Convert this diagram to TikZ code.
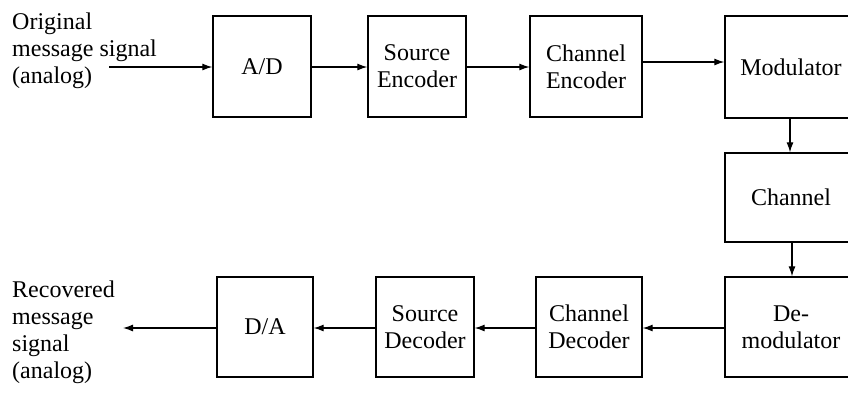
\documentclass[tikz,border=0pt]{standalone}
\usepackage{fontspec}
\setmainfont{Liberation Serif}
\usetikzlibrary{arrows.meta,calc}
\begin{document}
\begin{tikzpicture}[x=1pt,y=-1pt,
  txt/.style={font=\fontsize{24}{27}\selectfont},
  blk/.style={draw, line width=1.3pt, inner sep=0pt, align=center, txt},
  lbl/.style={inner sep=0pt, align=left, anchor=north west, txt},
  conn/.style={line width=1.2pt, -{Latex[length=10pt,width=7pt]}}]
\useasboundingbox (0,0) rectangle (848,392);
\fill[white] (0,0) rectangle (848,392);
% top row
\node[blk, minimum width=98pt, minimum height=101pt] (ad) at (262,66.5) {A/D};
\node[blk, minimum width=98pt, minimum height=101pt] (se) at (417,66.5) {Source\\Encoder};
\node[blk, minimum width=112pt, minimum height=101pt] (ce) at (586,66.5) {Channel\\Encoder};
\node[blk, minimum width=132pt, minimum height=102pt] (mod) at (791,67) {Modulator};
% right column
\node[blk, minimum width=132pt, minimum height=89pt] (ch) at (791,197.5) {Channel};
\node[blk, minimum width=132pt, minimum height=100pt] (dem) at (791,327) {De-\\modulator};
% bottom row
\node[blk, minimum width=106pt, minimum height=100pt] (cd) at (589,327) {Channel\\Decoder};
\node[blk, minimum width=98pt, minimum height=100pt] (sd) at (425,327) {Source\\Decoder};
\node[blk, minimum width=96pt, minimum height=100pt] (da) at (265,327) {D/A};
% labels
\node[lbl] (inl) at (12,13) {Original\\message signal\\(analog)};
\node[lbl] (outl) at (12,280.5) {Recovered\\message\\signal\\(analog)};
\coordinate (inpt) at (109,67);
\coordinate (outpt) at (123,328);
% connectors
\draw[conn] (inpt) -- (ad.west |- inpt);
\draw[conn] (ad.east |- 0,67) -- (se.west |- 0,67);
\draw[conn] (se.east |- 0,67) -- (ce.west |- 0,67);
\draw[conn] (ce.east |- 0,62) -- (mod.west |- 0,62);
\draw[conn] (mod.south -| 790,0) -- (ch.north -| 790,0);
\draw[conn] (ch.south -| 792,0) -- (dem.north -| 792,0);
\draw[conn] (dem.west |- 0,328) -- (cd.east |- 0,328);
\draw[conn] (cd.west |- 0,328) -- (sd.east |- 0,328);
\draw[conn] (sd.west |- 0,328) -- (da.east |- 0,328);
\draw[conn] (da.west |- outpt) -- (outpt);
\end{tikzpicture}
\end{document}
